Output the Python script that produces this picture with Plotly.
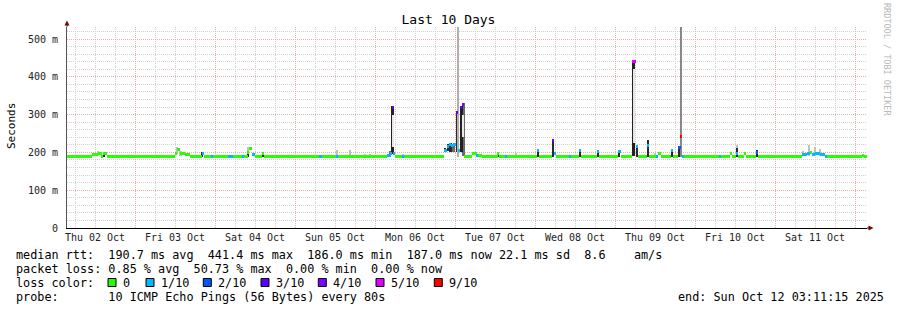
import plotly.graph_objects as go
import pandas as pd

# ---------------- data ----------------
X_RANGE = ["2025-10-02 03:36", "2025-10-12 03:36"]

# median rtt (ms) step series: value holds from MED_T[i] until MED_T[i+1]; MED_L = lost pings of 10
MED_T = [
    "2025-10-02 03:36", "2025-10-02 11:00", "2025-10-02 13:00", "2025-10-02 14:00", "2025-10-02 14:30",
    "2025-10-02 15:30", "2025-10-03 12:00", "2025-10-03 12:40", "2025-10-03 13:30", "2025-10-03 15:00",
    "2025-10-03 16:30", "2025-10-03 20:00", "2025-10-03 20:40", "2025-10-03 23:00", "2025-10-03 23:30",
    "2025-10-04 04:00", "2025-10-04 05:30", "2025-10-04 08:00", "2025-10-04 08:40", "2025-10-04 09:50",
    "2025-10-04 10:10", "2025-10-04 11:00", "2025-10-04 12:00", "2025-10-04 14:00", "2025-10-04 14:40",
    "2025-10-05 07:20", "2025-10-05 08:00", "2025-10-05 12:30", "2025-10-05 13:00", "2025-10-06 03:30",
    "2025-10-06 04:40", "2025-10-06 05:00", "2025-10-06 05:40", "2025-10-06 06:00", "2025-10-06 08:20",
    "2025-10-06 08:50", "2025-10-06 20:50", "2025-10-06 21:30", "2025-10-06 22:10", "2025-10-06 22:50",
    "2025-10-06 23:30", "2025-10-07 00:20", "2025-10-07 01:00", "2025-10-07 01:30", "2025-10-07 02:10",
    "2025-10-07 02:50", "2025-10-07 03:10", "2025-10-07 05:00", "2025-10-07 06:30", "2025-10-07 07:00",
    "2025-10-07 08:00", "2025-10-07 12:50", "2025-10-07 13:20", "2025-10-07 15:10", "2025-10-07 15:40",
    "2025-10-08 00:40", "2025-10-08 01:20", "2025-10-08 05:00", "2025-10-08 05:40", "2025-10-08 06:20",
    "2025-10-08 10:20", "2025-10-08 10:50", "2025-10-08 13:10", "2025-10-08 13:50", "2025-10-08 18:40",
    "2025-10-08 19:20", "2025-10-09 01:00", "2025-10-09 01:40", "2025-10-09 05:10", "2025-10-09 06:10",
    "2025-10-09 07:00", "2025-10-09 09:40", "2025-10-09 10:20", "2025-10-09 12:20", "2025-10-09 12:50",
    "2025-10-09 13:40", "2025-10-09 16:50", "2025-10-09 17:30", "2025-10-09 19:00", "2025-10-09 19:40",
    "2025-10-09 20:10", "2025-10-09 20:40", "2025-10-10 07:20", "2025-10-10 07:50", "2025-10-10 10:30",
    "2025-10-10 11:10", "2025-10-10 12:20", "2025-10-10 13:00", "2025-10-10 14:40", "2025-10-10 15:20",
    "2025-10-10 18:20", "2025-10-10 19:00", "2025-10-11 08:00", "2025-10-11 09:30", "2025-10-11 10:30",
    "2025-10-11 11:00", "2025-10-11 12:00", "2025-10-11 13:30", "2025-10-11 15:00", "2025-10-11 15:40",
    "2025-10-11 23:00", "2025-10-11 23:40", "2025-10-12 02:00", "2025-10-12 02:40",
]
MED_V = [
    188, 194, 197, 190, 198,
    188, 196, 208, 198, 194,
    188, 196, 188, 188, 188,
    188, 188, 188, 188, 200,
    210, 195, 190, 198, 188,
    188, 188, 190, 188, 192,
    198, 320, 196, 188, 188,
    188, 205, 215, 220, 218,
    222, 306, 205, 318, 328,
    188, 188, 196, 192, 193,
    188, 196, 188, 188, 188,
    205, 188, 232, 196, 188,
    188, 188, 204, 188, 203,
    188, 203, 188, 441, 215,
    188, 218, 188, 188, 196,
    188, 205, 188, 212, 243,
    188, 188, 188, 188, 196,
    188, 198, 188, 198, 188,
    200, 188, 194, 196, 200,
    195, 198, 195, 190, 188,
    190, 188, 191, 188,
]
MED_L = [
    0, 0, 0, 0, 0,
    0, 0, 0, 0, 0,
    0, 1, 0, 1, 0,
    1, 0, 1, 0, 0,
    0, 1, 0, 0, 0,
    1, 0, 1, 0, 1,
    1, 3, 1, 0, 1,
    0, 1, 1, 1, 1,
    1, 3, 1, 3, 4,
    0, 0, 0, 1, 0,
    0, 0, 0, 1, 0,
    1, 0, 3, 1, 0,
    1, 0, 1, 0, 1,
    0, 1, 0, 5, 1,
    0, 1, 0, 1, 0,
    0, 1, 0, 2, 9,
    1, 0, 1, 0, 0,
    0, 1, 0, 0, 0,
    2, 0, 1, 1, 0,
    1, 1, 1, 1, 0,
    0, 0, 0, 0,
]

# smoke (spread of the 10 pings): time, low, high (ms), shade kind
SMOKE_T = [
    "2025-10-02 13:00", "2025-10-02 14:40", "2025-10-03 12:40", "2025-10-03 13:40", "2025-10-03 20:10",
    "2025-10-04 10:00", "2025-10-04 09:50", "2025-10-04 14:20", "2025-10-05 12:40", "2025-10-05 16:30",
    "2025-10-05 21:00", "2025-10-05 22:30", "2025-10-06 04:30", "2025-10-06 05:20", "2025-10-06 08:20",
    "2025-10-06 21:00", "2025-10-06 21:50", "2025-10-06 22:40", "2025-10-06 23:30", "2025-10-07 00:50",
    "2025-10-07 00:30", "2025-10-07 02:00", "2025-10-07 02:30", "2025-10-07 12:50", "2025-10-07 18:20",
    "2025-10-07 23:30", "2025-10-08 00:50", "2025-10-08 05:20", "2025-10-08 13:30", "2025-10-08 18:50",
    "2025-10-09 01:10", "2025-10-09 05:40", "2025-10-09 06:40", "2025-10-09 10:00", "2025-10-09 12:00",
    "2025-10-09 17:10", "2025-10-09 19:20", "2025-10-09 19:50", "2025-10-09 19:50", "2025-10-10 12:40",
    "2025-10-10 12:40", "2025-10-10 18:40", "2025-10-11 08:30", "2025-10-11 10:10", "2025-10-11 12:00",
    "2025-10-11 13:30", "2025-10-06 05:20", "2025-10-09 05:40", "2025-10-07 02:30",
]
SMOKE_LO = [
    190, 188, 195, 190, 188,
    190, 188, 188, 188, 188,
    188, 188, 190, 195, 188,
    200, 205, 200, 200, 188,
    200, 200, 190, 188, 188,
    188, 188, 188, 188, 188,
    188, 190, 188, 188, 188,
    188, 188, 188, 200, 188,
    188, 188, 190, 190, 190,
    190, 215, 225, 240,
]
SMOKE_HI = [
    205, 200, 214, 204, 202,
    215, 205, 200, 206, 206,
    196, 196, 205, 322, 196,
    212, 222, 225, 222, 600,
    306, 322, 330, 200, 198,
    192, 210, 236, 207, 206,
    205, 441, 215, 232, 198,
    207, 213, 600, 243, 220,
    212, 206, 205, 220, 214,
    210, 300, 420, 300,
]
SMOKE_KIND = [
    "light", "dark", "light", "light", "dark",
    "light", "dark", "dark", "light", "light",
    "light", "light", "mid", "wide", "light",
    "dark", "dark", "dark", "mid", "line",
    "dark", "wide", "mid", "dark", "light",
    "light", "dark", "dark", "dark", "dark",
    "dark", "wide", "dark", "dark", "light",
    "dark", "dark", "line2", "dark", "light",
    "dark", "dark", "light", "light", "light",
    "light", "inner", "inner", "inner",
]

LOSS_KEYS = [0, 1, 2, 3, 4, 5, 9]
LOSS_LABELS = ["0", "1/10", "2/10", "3/10", "4/10", "5/10", "9/10"]

Y_TICKS = [0, 100, 200, 300, 400, 500]
Y_TICKTEXT = ["0", "100 m", "200 m", "300 m", "400 m", "500 m"]

TITLE = "Last 10 Days"
RTT_LINE = "median rtt:  190.7 ms avg  441.4 ms max  186.0 ms min  187.0 ms now 22.1 ms sd  8.6    am/s"
LOSS_LINE = "packet loss: 0.85 % avg  50.73 % max  0.00 % min  0.00 % now"
COLOR_HEAD = "loss color:"
PROBE_LINE = "probe:       10 ICMP Echo Pings (56 Bytes) every 80s"
END_TEXT = "end: Sun Oct 12 03:11:15 2025"
WATERMARK = "RRDTOOL / TOBI OETIKER"

# ---------------- styles ----------------
LOSS_COLORS = {0: "#26ff00", 1: "#00b8ff", 2: "#0059ff", 3: "#5e00ff",
               4: "#7e00ff", 5: "#dd00ff", 9: "#ff0000"}
KIND_STYLE = {  # color, width in px (drawn in this order)
    "light": ("#c0c0c0", 2.2),
    "mid": ("#6a6a6a", 2.6),
    "dark": ("#2a2a2a", 2.2),
    "wide": ("#222222", 3.2),
    "inner": ("#e8e8e8", 0.9),
    "line": ("#b0b0b0", 1.0),
    "line2": ("#888888", 1.6),
}
MEDIAN_BAND_MS = 8   # thickness of the median band (about 3 px)
MONO = "DejaVu Sans Mono"
W, H = 897, 310
PL, PT, PR, PB = 67, 27, 30, 82   # plot area margins
PW, PH = W - PL - PR, H - PT - PB
MS_PER_PX = (pd.Timestamp(X_RANGE[1]) - pd.Timestamp(X_RANGE[0])).total_seconds() * 1000 / PW


def px(xp):
    return (xp - PL) / PW


def py(yp):
    return (H - PB - yp) / PH


def nb(s):
    return s.replace(" ", "\u00a0")


fig = go.Figure()

# smoke bars
for kind, (col, wpx) in KIND_STYLE.items():
    idx = [i for i, k in enumerate(SMOKE_KIND) if k == kind]
    if not idx:
        continue
    fig.add_trace(go.Bar(
        x=[SMOKE_T[i] for i in idx],
        y=[SMOKE_HI[i] - SMOKE_LO[i] for i in idx],
        base=[SMOKE_LO[i] for i in idx],
        width=[wpx * MS_PER_PX] * len(idx),
        marker=dict(color=col, line=dict(width=0)),
        showlegend=False, hoverinfo="skip",
    ))

# median band coloured by loss: one thin bar per step
starts = pd.to_datetime(pd.Series(MED_T))
ends = pd.to_datetime(pd.Series(MED_T[1:] + [X_RANGE[1]]))
mids = starts + (ends - starts) / 2
durs = (ends - starts).dt.total_seconds() * 1000
for key in LOSS_KEYS:
    idx = [i for i, l in enumerate(MED_L) if l == key]
    if not idx:
        continue
    fig.add_trace(go.Bar(
        x=[mids[i] for i in idx],
        y=[MEDIAN_BAND_MS] * len(idx),
        base=[MED_V[i] - MEDIAN_BAND_MS / 2 for i in idx],
        width=[durs[i] for i in idx],
        marker=dict(color=LOSS_COLORS[key], line=dict(width=0)),
        showlegend=False, hoverinfo="skip",
    ))

GRID = "#d0d0d0"
MGRID = "#f0aaaa"

fig.update_layout(
    width=W, height=H,
    margin=dict(l=PL, r=PR, t=PT, b=PB, pad=0),
    paper_bgcolor="white", plot_bgcolor="white",
    barmode="overlay", bargap=0,
    showlegend=False,
    font=dict(family=MONO, size=10, color="#222"),
    title=dict(text=TITLE, x=0.5, xref="container", xanchor="center",
               y=1 - 19 / H, yref="container", yanchor="middle",
               font=dict(family=MONO, size=13, color="#000")),
    xaxis=dict(
        type="date", range=X_RANGE,
        tick0="2025-10-02", dtick=86400000, ticklabelmode="period",
        tickformat="%a %d %b", ticks="", showline=True, linecolor="#000", linewidth=1,
        showgrid=True, gridcolor=MGRID, griddash="1px,1px", gridwidth=1,
        minor=dict(dtick=6 * 3600000, showgrid=True, gridcolor=GRID, griddash="1px,1px", gridwidth=1),
        tickfont=dict(family=MONO, size=10, color="#222"),
        zeroline=False, fixedrange=True,
    ),
    yaxis=dict(
        range=[0, 532], tickvals=Y_TICKS, ticktext=Y_TICKTEXT, ticks="",
        showline=True, linecolor="#555", linewidth=1,
        showgrid=True, gridcolor=MGRID, griddash="1px,1px", gridwidth=1,
        minor=dict(dtick=20, showgrid=True, gridcolor=GRID, griddash="1px,1px", gridwidth=1),
        tickfont=dict(family=MONO, size=10, color="#222"),
        zeroline=False, fixedrange=True, ticklabelstandoff=6,
    ),
)

ARROW = "#7f0000"
shapes = [
    dict(type="line", xref="paper", yref="paper", x0=0, x1=0, y0=1, y1=py(24), line=dict(color="#555", width=1)),
    dict(type="line", xref="paper", yref="paper", x0=1, x1=px(869), y0=0, y1=0, line=dict(color="#000", width=1)),
    dict(type="path", xref="paper", yref="paper",
         path=f"M {px(64.5)} {py(25.5)} L {px(69.5)} {py(25.5)} L {px(67)} {py(20.5)} Z",
         fillcolor=ARROW, line=dict(width=0)),
    dict(type="path", xref="paper", yref="paper",
         path=f"M {px(868.5)} {py(225.5)} L {px(868.5)} {py(230.5)} L {px(873.5)} {py(228)} Z",
         fillcolor=ARROW, line=dict(width=0)),
]

annotations = []


def label(xp, yp, text, size=11.8, color="#000", **kw):
    annotations.append(dict(x=px(xp), y=py(yp), xref="paper", yref="paper", text=nb(text),
                            showarrow=False, xanchor=kw.pop("xanchor", "left"), yanchor="middle",
                            borderpad=0, borderwidth=0,
                            font=dict(family=MONO, size=size, color=color), **kw))


label(11, 126, "Seconds", size=11, xanchor="center", textangle=-90)
label(887, 60, WATERMARK, size=8.5, color="#b8b8b8", xanchor="center", textangle=90)

ROW_Y = [255, 268.5, 282.5, 296.5]
label(16, ROW_Y[0], RTT_LINE)
label(16, ROW_Y[1], LOSS_LINE)
label(16, ROW_Y[2], COLOR_HEAD)
for xp, key, s in zip([108, 146, 203.3, 261, 318.3, 376, 434.3], LOSS_KEYS, LOSS_LABELS):
    shapes.append(dict(type="rect", xref="paper", yref="paper",
                       x0=px(xp), x1=px(xp + 8), y0=py(286.5), y1=py(278.5),
                       fillcolor=LOSS_COLORS[key], line=dict(color="#000", width=1)))
    label(xp + 14.7, ROW_Y[2], s)
label(16, ROW_Y[3], PROBE_LINE)
label(678.3, ROW_Y[3], END_TEXT)

fig.update_layout(shapes=shapes, annotations=annotations)

fig.write_html("out.html")
